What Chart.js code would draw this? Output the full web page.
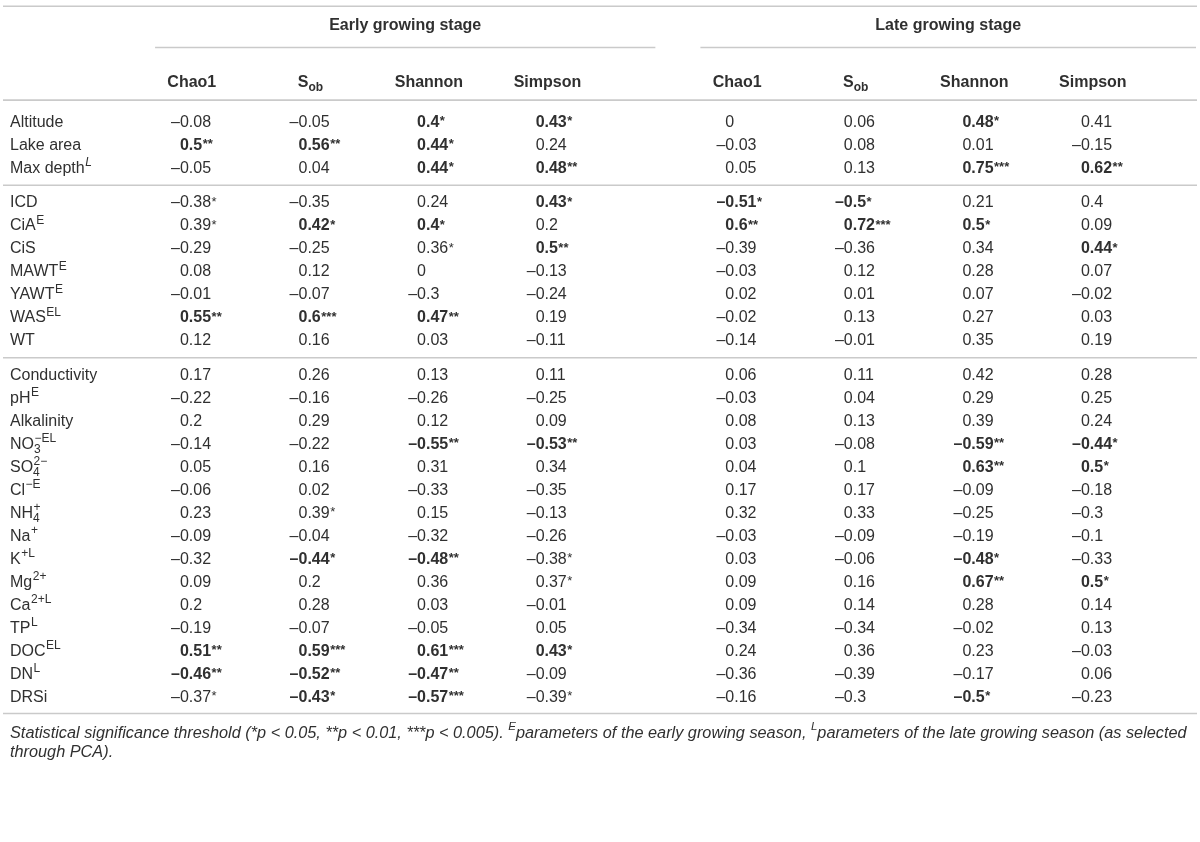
<!DOCTYPE html>
<html lang="en">
<head>
  <meta charset="UTF-8">
  <title>Correlation of diversity indices with lake parameters</title>
  <script src="https://cdn.jsdelivr.net/npm/chart.js"></script>
  <style>
    html, body { margin: 0; padding: 0; background: #fff; }
    #wrap { width: 1200px; height: 842px; position: relative; }
  </style>
</head>
<body>
  <div id="wrap"><canvas id="tbl"></canvas></div>

  <script>
    // row labels (base text, subscript, superscript)
    const rowNames = ['Altitude','Lake area','Max depth','ICD','CiA','CiS','MAWT','YAWT','WAS','WT',
      'Conductivity','pH','Alkalinity','NO','SO','Cl','NH','Na','K','Mg','Ca','TP','DOC','DN','DRSi'];
    const rowSub = ['','','','','','','','','','','','','','3','4','','4','','','','','','','',''];
    const rowSup = ['','','L','','E','','E','E','EL','','','E','','\u2212EL','2\u2212','\u2212E','+','+','+L','2+','2+L','L','EL','L',''];
    const groupSizes = [3, 7, 15];

    const stages = ['Early growing stage', 'Late growing stage'];
    const colNames = ['Chao1','S','Shannon','Simpson','Chao1','S','Shannon','Simpson'];
    const colSub   = ['','ob','','','','ob','',''];

    // correlation values, one array per column
    const earlyChao1   = [-0.08,0.5,-0.05,-0.38,0.39,-0.29,0.08,-0.01,0.55,0.12,0.17,-0.22,0.2,-0.14,0.05,-0.06,0.23,-0.09,-0.32,0.09,0.2,-0.19,0.51,-0.46,-0.37];
    const earlySob     = [-0.05,0.56,0.04,-0.35,0.42,-0.25,0.12,-0.07,0.6,0.16,0.26,-0.16,0.29,-0.22,0.16,0.02,0.39,-0.04,-0.44,0.2,0.28,-0.07,0.59,-0.52,-0.43];
    const earlyShannon = [0.4,0.44,0.44,0.24,0.4,0.36,0,-0.3,0.47,0.03,0.13,-0.26,0.12,-0.55,0.31,-0.33,0.15,-0.32,-0.48,0.36,0.03,-0.05,0.61,-0.47,-0.57];
    const earlySimpson = [0.43,0.24,0.48,0.43,0.2,0.5,-0.13,-0.24,0.19,-0.11,0.11,-0.25,0.09,-0.53,0.34,-0.35,-0.13,-0.26,-0.38,0.37,-0.01,0.05,0.43,-0.09,-0.39];
    const lateChao1    = [0,-0.03,0.05,-0.51,0.6,-0.39,-0.03,0.02,-0.02,-0.14,0.06,-0.03,0.08,0.03,0.04,0.17,0.32,-0.03,0.03,0.09,0.09,-0.34,0.24,-0.36,-0.16];
    const lateSob      = [0.06,0.08,0.13,-0.5,0.72,-0.36,0.12,0.01,0.13,-0.01,0.11,0.04,0.13,-0.08,0.1,0.17,0.33,-0.09,-0.06,0.16,0.14,-0.34,0.36,-0.39,-0.3];
    const lateShannon  = [0.48,0.01,0.75,0.21,0.5,0.34,0.28,0.07,0.27,0.35,0.42,0.29,0.39,-0.59,0.63,-0.09,-0.25,-0.19,-0.48,0.67,0.28,-0.02,0.23,-0.17,-0.5];
    const lateSimpson  = [0.41,-0.15,0.62,0.4,0.09,0.44,0.07,-0.02,0.03,0.19,0.28,0.25,0.24,-0.44,0.5,-0.18,-0.3,-0.1,-0.33,0.5,0.14,0.13,-0.03,0.06,-0.23];

    // significance stars per cell (1 = p<0.05, 2 = p<0.01, 3 = p<0.005)
    const earlyChao1Sig   = [0,2,0,1,1,0,0,0,2,0,0,0,0,0,0,0,0,0,0,0,0,0,2,2,1];
    const earlySobSig     = [0,2,0,0,1,0,0,0,3,0,0,0,0,0,0,0,1,0,1,0,0,0,3,2,1];
    const earlyShannonSig = [1,1,1,0,1,1,0,0,2,0,0,0,0,2,0,0,0,0,2,0,0,0,3,2,3];
    const earlySimpsonSig = [1,0,2,1,0,2,0,0,0,0,0,0,0,2,0,0,0,0,1,1,0,0,1,0,1];
    const lateChao1Sig    = [0,0,0,1,2,0,0,0,0,0,0,0,0,0,0,0,0,0,0,0,0,0,0,0,0];
    const lateSobSig      = [0,0,0,1,3,0,0,0,0,0,0,0,0,0,0,0,0,0,0,0,0,0,0,0,0];
    const lateShannonSig  = [1,0,3,0,1,0,0,0,0,0,0,0,0,2,2,0,0,0,1,2,0,0,0,0,1];
    const lateSimpsonSig  = [0,0,2,0,0,1,0,0,0,0,0,0,0,1,1,0,0,0,0,1,0,0,0,0,0];

    const columns = [earlyChao1, earlySob, earlyShannon, earlySimpson, lateChao1, lateSob, lateShannon, lateSimpson];
    const sigs = [earlyChao1Sig, earlySobSig, earlyShannonSig, earlySimpsonSig, lateChao1Sig, lateSobSig, lateShannonSig, lateSimpsonSig];

    // layout (in scale units)
    const colPos = [0, 1, 2, 3, 4.6, 5.6, 6.6, 7.6];
    const groupGap = 0.5;
    const rowPos = [];
    groupSizes.forEach((n, g) => {
      for (let k = 0; k < n; k++) rowPos.push(rowPos.length + g * groupGap);
    });

    const FONT = '"Liberation Sans", Arial, Helvetica, sans-serif';
    const INK = '#303030';
    const RULE = '#cacaca';
    const SIZE = 16;

    function font(sz, bold, italic) {
      return `${italic ? 'italic ' : ''}${bold ? 'bold ' : ''}${sz}px ${FONT}`;
    }

    // base text + subscript, returns width
    function richText(ctx, x, y, base, sub, sz, bold, measureOnly) {
      ctx.font = font(sz, bold, false);
      const bw = ctx.measureText(base).width;
      if (!measureOnly) ctx.fillText(base, x, y);
      let sw = 0;
      if (sub) {
        ctx.font = font(Math.round(sz * 0.72), bold, false);
        sw = ctx.measureText(sub).width;
        if (!measureOnly) ctx.fillText(sub, x + bw, y + sz * 0.32);
      }
      return bw + sw;
    }

    function rule(ctx, x1, x2, y) {
      ctx.beginPath();
      ctx.moveTo(x1, y);
      ctx.lineTo(x2, y);
      ctx.stroke();
    }

    const tablePlugin = {
      id: 'tableText',
      afterDatasetsDraw(chart) {
        const ctx = chart.ctx;
        const xs = chart.scales.x, ys = chart.scales.y;
        const area = chart.chartArea;
        const lastRow = rowPos[rowPos.length - 1];
        ctx.save();
        ctx.fillStyle = INK;
        ctx.strokeStyle = RULE;
        ctx.lineWidth = 1.6;
        ctx.textBaseline = 'middle';

        // horizontal rules
        rule(ctx, area.left + 3, area.right - 3, ys.getPixelForValue(-5.03));
        rule(ctx, area.left + 3, area.right - 3, ys.getPixelForValue(-0.95));
        let acc = 0;
        groupSizes.slice(0, -1).forEach(n => {
          acc += n;
          const yy = (rowPos[acc - 1] + rowPos[acc]) / 2;
          rule(ctx, area.left + 3, area.right - 3, ys.getPixelForValue(yy));
        });
        rule(ctx, area.left + 3, area.right - 3, ys.getPixelForValue(lastRow + 0.72));

        // stage headers with underline
        stages.forEach((s, g) => {
          const a = xs.getPixelForValue(colPos[g * 4] - 0.21);
          const b = Math.min(xs.getPixelForValue(colPos[g * 4 + 3] + 1.01), area.right - 4);
          rule(ctx, a, b, ys.getPixelForValue(-3.24));
          ctx.font = font(SIZE, true, false);
          ctx.textAlign = 'center';
          ctx.fillText(s, (a + b) / 2, ys.getPixelForValue(-4.17));
        });

        // column headers
        ctx.textAlign = 'left';
        colNames.forEach((c, i) => {
          const cx = xs.getPixelForValue(colPos[i] + 0.1);
          const yy = ys.getPixelForValue(-1.7);
          const w = richText(ctx, 0, 0, c, colSub[i], SIZE, true, true);
          richText(ctx, cx - w / 2, yy, c, colSub[i], SIZE, true, false);
        });

        // row labels
        rowNames.forEach((r, i) => {
          const yy = ys.getPixelForValue(rowPos[i]) + 0.5;
          ctx.font = font(SIZE, false, false);
          const bw = ctx.measureText(r).width;
          ctx.fillText(r, area.left + 10, yy);
          ctx.font = font(Math.round(SIZE * 0.72), false, i === 2);
          if (rowSub[i]) ctx.fillText(rowSub[i], area.left + 10 + bw, yy + SIZE * 0.32);
          if (rowSup[i]) ctx.fillText(rowSup[i], area.left + 10 + bw + 0.5, yy - SIZE * 0.36);
        });

        // cell values, aligned on the leading digit
        chart.data.datasets.forEach((ds, c) => {
          const meta = chart.getDatasetMeta(c);
          meta.data.forEach((pt, i) => {
            const v = columns[c][i];
            const n = sigs[c][i];
            const bold = n > 0 && Math.abs(v) >= 0.4;
            const y = pt.y + 0.5;
            ctx.font = font(SIZE, bold, false);
            const num = String(Math.abs(v));
            ctx.textAlign = 'left';
            ctx.fillText(num, pt.x, y);
            const nw = ctx.measureText(num).width;
            if (v < 0) {
              ctx.textAlign = 'right';
              ctx.fillText('\u2013', pt.x, y);
              ctx.textAlign = 'left';
            }
            if (n) {
              ctx.font = font(13, bold, false);
              ctx.fillText('*'.repeat(n), pt.x + nw + 0.5, y - 1);
            }
          });
        });

        // footnote
        ctx.textAlign = 'left';
        const fy1 = ys.getPixelForValue(lastRow + 1.57);
        const fy2 = ys.getPixelForValue(lastRow + 2.42);
        const parts = [
          ['Statistical significance threshold (*p < 0.05, **p < 0.01, ***p < 0.005). ', false],
          ['E', true],
          ['parameters of the early growing season, ', false],
          ['L', true],
          ['parameters of the late growing season (as selected', false]
        ];
        let fx = area.left + 10;
        parts.forEach(([t, sup]) => {
          const sz = sup ? 11.5 : 16.3;
          ctx.font = font(sz, false, true);
          ctx.fillText(t, fx, sup ? fy1 - 6 : fy1);
          fx += ctx.measureText(t).width;
        });
        ctx.font = font(16.3, false, true);
        ctx.fillText('through PCA).', area.left + 10, fy2);

        ctx.restore();
      }
    };

    const datasets = columns.map((col, c) => ({
      label: colNames[c] + colSub[c],
      data: col.map((v, i) => ({ x: colPos[c], y: rowPos[i] })),
      pointRadius: 0,
      showLine: false
    }));

    new Chart(document.getElementById('tbl').getContext('2d'), {
      type: 'scatter',
      data: { datasets },
      options: {
        responsive: true,
        maintainAspectRatio: false,
        animation: false,
        layout: { padding: 0 },
        scales: {
          x: { type: 'linear', display: false, min: -1.518, max: 8.604 },
          y: { type: 'linear', display: false, reverse: true, min: -5.304, max: 31.305 }
        },
        plugins: { legend: { display: false }, tooltip: { enabled: false } }
      },
      plugins: [tablePlugin]
    });
  </script>
</body>
</html>
